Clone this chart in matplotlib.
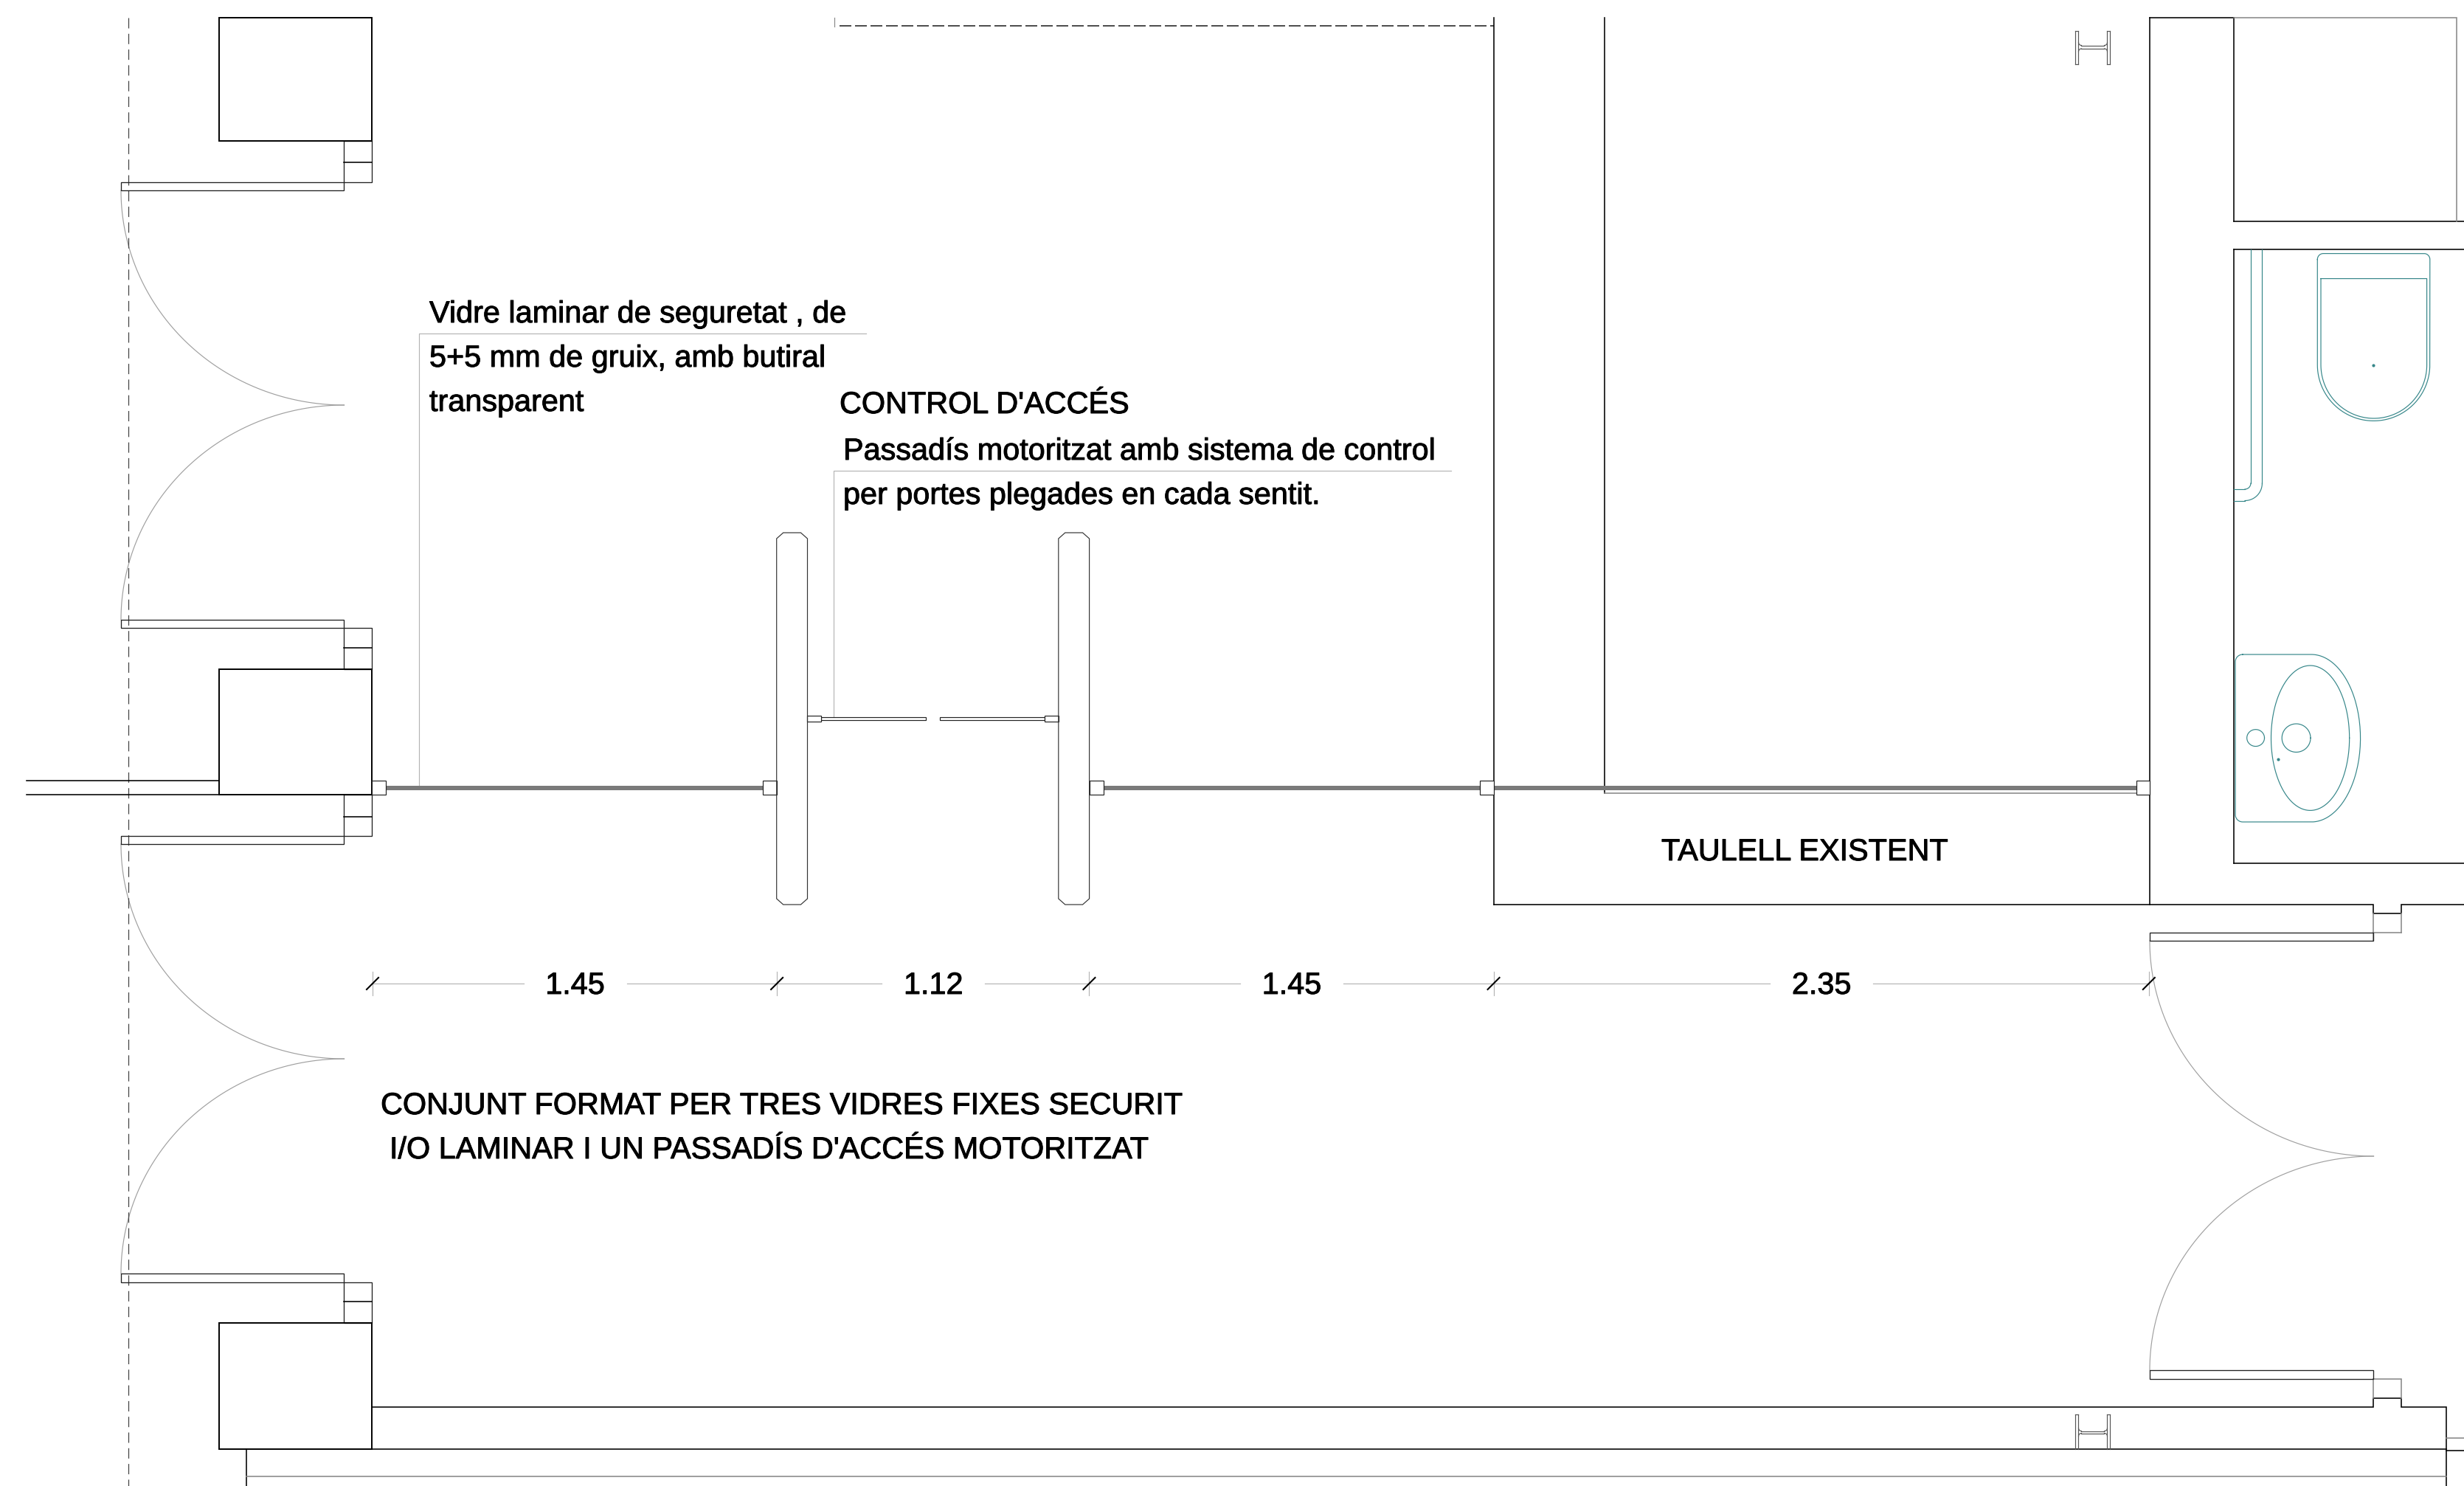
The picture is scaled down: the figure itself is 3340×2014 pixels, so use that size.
import numpy as np
import matplotlib
matplotlib.use("Agg")
import matplotlib.pyplot as plt
from matplotlib.patches import Rectangle, Polygon
import matplotlib.patheffects as pe

plt.rcParams['font.family'] = ['Liberation Sans', 'DejaVu Sans']
plt.rcParams['lines.scale_dashes'] = False

W, H = 3341, 2015
BLACK, DARK, MID, LIGHT, TEAL = '#000000', '#444444', '#888888', '#b4b4b4', '#358689'
LW = 1.15
THIN = 0.85
PX = 72 / 100
FONT = 29.8

# ---- values (pixel units of the sheet) ----
dim_values = [1.45, 1.12, 1.45, 2.35]
dim_labels = ['1.45', '1.12', '1.45', '2.35']
dim_x0 = 505
dim_scale = 378
dim_y = 1334
dim_text_half_gap = 70

notes = [
    ('Vidre laminar de seguretat , de', 582, 427),
    ('5+5 mm de gruix, amb butiral', 582, 487),
    ('transparent', 582, 547),
    ("CONTROL D'ACCÉS", 1138, 550),
    ('Passadís motoritzat amb sistema de control', 1143, 613),
    ('per portes plegades en cada sentit.', 1143, 673),
    ('TAULELL EXISTENT', 2252, 1156),
    ('CONJUNT FORMAT PER TRES VIDRES FIXES SECURIT', 516, 1500),
    ("I/O LAMINAR I UN PASSADÍS D'ACCÉS MOTORITZAT", 528, 1560),
]

column_boxes = [(296.7, 24.5, 504.5, 192), (296.7, 907.5, 504.5, 1078), (296.7, 1794, 504.5, 1964.5)]
door_leaves = [(164, 248, 466.5, 259), (164, 841, 466.5, 852), (164, 1134, 466.5, 1145),
               (164, 1727, 466.5, 1739), (2914, 1265, 3217.5, 1276), (2914, 1858, 3217.5, 1870)]
frame_boxes = [(466.5, 192, 504.5, 248), (466.5, 852, 504.5, 908), (466.5, 1078, 504.5, 1134),
               (466.5, 1739, 504.5, 1794)]
frame_mids = [(466.5, 504.5, 221), (466.5, 504.5, 879), (466.5, 504.5, 1108), (466.5, 504.5, 1765)]
door_arcs = [(466.5, 259, 302.5, 291, 180, 90), (466.5, 841, 302.5, 291, 180, 270),
             (466.5, 1145, 302.5, 291, 180, 90), (466.5, 1727, 302.5, 291, 180, 270),
             (3217.5, 1276, 303.5, 292, 180, 90), (3217.5, 1858, 303.5, 290, 180, 270)]
glass_main = [(523.3, 1034), (1495.6, 2006), (2025, 2895.6)]
glass_y = (1066, 1072)
glass_mounts = [(504.5, 523.3), (1033.7, 1052.7), (1476.6, 1495.6), (2006, 2025), (2895.6, 2914)]
mount_y = (1059, 1078)
gate_leaves = [(1113.5, 1255), (1274, 1415.7)]
gate_mounts = [(1094.5, 1113.5), (1415.7, 1434.8)]
posts = [(1052.7, 1094.5), (1434.8, 1476.6)]
post_y = (723, 1227)

black_lines = [
    ([36, 296.7], [1059, 1059]), ([36, 296.7], [1078, 1078]),
    ([2025, 2025], [25, 1227]), ([2175, 2175], [25, 1076]),
    ([2025, 3217.5, 3217.5, 3254.8, 3254.8, 3341], [1227, 1227, 1239, 1239, 1227, 1227]),
    ([2914, 2914], [25, 1227]), ([2914, 3028], [25, 25]),
    ([3028, 3028], [25, 301]), ([3028, 3341], [301, 301]),
    ([3028, 3341], [339, 339]), ([3028, 3028], [339, 1170.5]), ([3028, 3341], [1170.5, 1170.5]),
    ([504.5, 3217.5, 3217.5, 3254.8, 3254.8, 3316, 3316], [1908, 1908, 1896, 1896, 1908, 1908, 2015]),
    ([504.5, 3316], [1964.5, 1964.5]), ([334, 334], [1964.5, 2015]),
    ([3316, 3341], [1967, 1967]),
]
gray_lines = [
    ([3028, 3330, 3330], [25, 25, 301]), ([334, 3316], [2002, 2002]), ([3316, 3341], [1950, 1950]),
    ([3217.5, 3217.5], [1239, 1276]), ([3254.8, 3254.8], [1239, 1265]), ([3217.5, 3254.8], [1265, 1265]),
    ([3217.5, 3217.5], [1870, 1896]), ([3217.5, 3254.8, 3254.8], [1870, 1870, 1896]),
    ([2175, 2895.6], [1076, 1076]),
]
leader_lines = [([1174, 568, 568], [453, 453, 1066]), ([1967, 1130, 1130], [639, 639, 973])]
top_dashed = ([1138, 2025], [36, 36])
top_stub = ([1131, 1131], [25, 37])
centre_dashed = ([174, 174], [25, 2015])

beam_top = (2813.5, 2860.5, 42.5, 88)
beam_bottom = (2813.5, 2860.5, 1918, 1964.5)

fig = plt.figure(figsize=(W / 100, H / 100), dpi=100, facecolor='white')
ax = fig.add_axes([0, 0, 1, 1])
ax.set_xlim(0, W)
ax.set_ylim(H, 0)
ax.axis('off')
bold = [pe.withStroke(linewidth=0.7, foreground='black')]


def rect(b, color=BLACK, lw=LW, fill='none', z=2):
    ax.add_patch(Rectangle((b[0], b[1]), b[2] - b[0], b[3] - b[1], fc=fill, ec=color, lw=lw, zorder=z))


def arc(cx, cy, rx, ry, t0, t1, n=80):
    t = np.radians(np.linspace(t0, t1, n))
    return cx + rx * np.cos(t), cy + ry * np.sin(t)


def round_path(x0, x1, y0, y1, r, ry=None):
    ry = r if ry is None else ry
    xs, ys = [], []
    for c in [arc(x0 + r, y0 + ry, r, ry, 180, 270), arc(x1 - r, y0 + ry, r, ry, 270, 360)]:
        xs += list(c[0]); ys += list(c[1])
    return xs, ys


def draw_beam(x0, x1, y0, y1, web_y, open_bottom=False):
    c = '#555555'
    for a, b in [(x0, x0 + 4), (x1 - 4, x1)]:
        ax.plot([a, a], [y0, y1], color=c, lw=THIN)
        ax.plot([b, b], [y0, y1], color=c, lw=THIN)
        ax.plot([a, b], [y0, y0], color=c, lw=THIN)
        if not open_bottom:
            ax.plot([a, b], [y1, y1], color=c, lw=THIN)
    for yy, sgn in [(web_y[0], -1), (web_y[1], 1)]:
        ax.plot([x0 + 8, x1 - 8], [yy, yy], color=c, lw=THIN)
        ax.plot(*arc(x0 + 8, yy + sgn * 4, 4, 4, 180, 90 if sgn < 0 else 270), color=c, lw=THIN)
        ax.plot(*arc(x1 - 8, yy + sgn * 4, 4, 4, 0, 90 if sgn < 0 else -90), color=c, lw=THIN)


# structure
for xs, ys in black_lines:
    ax.plot(xs, ys, color=BLACK, lw=LW, solid_joinstyle='miter', zorder=2)
for xs, ys in gray_lines:
    ax.plot(xs, ys, color=MID, lw=LW, solid_joinstyle='miter', zorder=2)
for b in column_boxes:
    rect(b, lw=1.4, z=3)
for b in door_leaves + frame_boxes:
    rect(b, lw=THIN + 0.1, color='#222222')
for x0, x1, y in frame_mids:
    ax.plot([x0, x1], [y, y], color=BLACK, lw=LW)
for a in door_arcs:
    ax.plot(*arc(*a), color='#a0a0a0', lw=THIN, zorder=1)

# dashed reference lines
ax.plot(*centre_dashed, color='#444444', lw=0.9, dashes=(14 * PX, 7.3 * PX), zorder=1)
ax.plot(*top_dashed, color='#222222', lw=LW, dashes=(16 * PX, 5 * PX), zorder=1)
ax.plot(*top_stub, color=MID, lw=THIN, zorder=1)

# glazing
for x0, x1 in glass_main:
    ax.add_patch(Rectangle((x0, glass_y[0]), x1 - x0, glass_y[1] - glass_y[0], fc='#7a7a7a', ec='none', zorder=2))
for x0, x1 in glass_mounts:
    rect((x0, mount_y[0], x1, mount_y[1]), lw=THIN, color='#222222', fill='white', z=3)
for x0, x1 in gate_leaves:
    rect((x0, 973.3, x1, 977.3), lw=THIN, color='#222222')
for x0, x1 in gate_mounts:
    rect((x0, 971, x1, 979), lw=THIN, color='#222222', fill='white', z=3)
for x0, x1 in posts:
    y0, y1 = post_y
    ax.add_patch(Polygon([(x0 + 9, y0), (x1 - 9, y0), (x1, y0 + 8), (x1, y1 - 8), (x1 - 9, y1), (x0 + 9, y1),
                          (x0, y1 - 8), (x0, y0 + 8)], closed=True, fc='none', ec='#333333', lw=THIN, zorder=4))
for xs, ys in leader_lines:
    ax.plot(xs, ys, color=LIGHT, lw=THIN, zorder=1)

# steel sections
draw_beam(*beam_top, (62.5, 67))
draw_beam(*beam_bottom, (1940.5, 1943.5), open_bottom=True)

# sanitary fixtures
for x in (3050.9, 3066.4):
    ax.plot([x, x], [339, 656], color=TEAL, lw=THIN)
ix, iy = arc(3043, 656, 7.9, 8, 0, 90)
ox, oy = arc(3043, 656, 23.4, 23.5, 0, 90)
ax.plot(ix, iy, color=TEAL, lw=THIN)
ax.plot(ox, oy, color=TEAL, lw=THIN)
ax.plot([3028, 3043], [664, 664], color=TEAL, lw=THIN)
ax.plot([3028, 3043], [679.5, 679.5], color=TEAL, lw=THIN)

xs, ys = round_path(3141.3, 3293.8, 344.6, 495.5, 8)
bx, by = arc(3217.5, 495.5, 76.2, 75.9, 0, 180)
ax.plot(xs + list(bx) + [xs[0]], ys + list(by) + [ys[0]], color=TEAL, lw=THIN)
bx, by = arc(3217.8, 495.5, 71.8, 72.5, 0, 180)
ax.plot([3146, 3289.6] + list(bx) + [3146], [378.6, 378.6] + list(by) + [378.6], color=TEAL, lw=THIN)
ax.plot([3217], [495.5], 'o', color=TEAL, ms=2)

sx, sy = arc(3040, 898, 10, 10, 270, 180)
tx, ty = arc(3133, 1001.5, 66.6, 113.5, -90, 90)
ux, uy = arc(3040, 1105, 10, 10, 180, 90)
ax.plot(list(sx) + list(ux) + list(tx[::-1]) + [sx[0]], list(sy) + list(uy) + list(ty[::-1]) + [sy[0]],
        color=TEAL, lw=THIN)
for cx, cy, rx, ry in [(3131.6, 1001.2, 53.1, 98.2), (3057.6, 1001.1, 11.9, 11.4), (3112.6, 1001.2, 19.4, 19.2)]:
    ax.plot(*arc(cx, cy, rx, ry, 0, 360, 120), color=TEAL, lw=THIN)
ax.plot([3088], [1030], 'o', color=TEAL, ms=2)

# dimension chain: tick positions follow from the values
ticks = dim_x0 + dim_scale * np.concatenate([[0], np.cumsum(dim_values)])
for a, b, lab in zip(ticks[:-1], ticks[1:], dim_labels):
    mid = (a + b) / 2 + 0.5
    ax.plot([a, mid - dim_text_half_gap], [dim_y, dim_y], color=LIGHT, lw=THIN)
    ax.plot([mid + dim_text_half_gap, b], [dim_y, dim_y], color=LIGHT, lw=THIN)
    ax.text(mid, dim_y + 3, lab, ha='center', va='center', fontsize=FONT, color=BLACK, zorder=5, path_effects=bold)
for t in ticks:
    ax.plot([t, t], [dim_y - 16, dim_y + 16], color=LIGHT, lw=THIN)
    ax.plot([t - 8, t + 8], [dim_y + 8, dim_y - 8], color=BLACK, lw=1.5, zorder=5)

for s, x, y in notes:
    ax.text(x, y, s, ha='left', va='center', fontsize=FONT, color=BLACK, zorder=5, path_effects=bold)

fig.savefig('out.png', dpi=100, facecolor='white')
